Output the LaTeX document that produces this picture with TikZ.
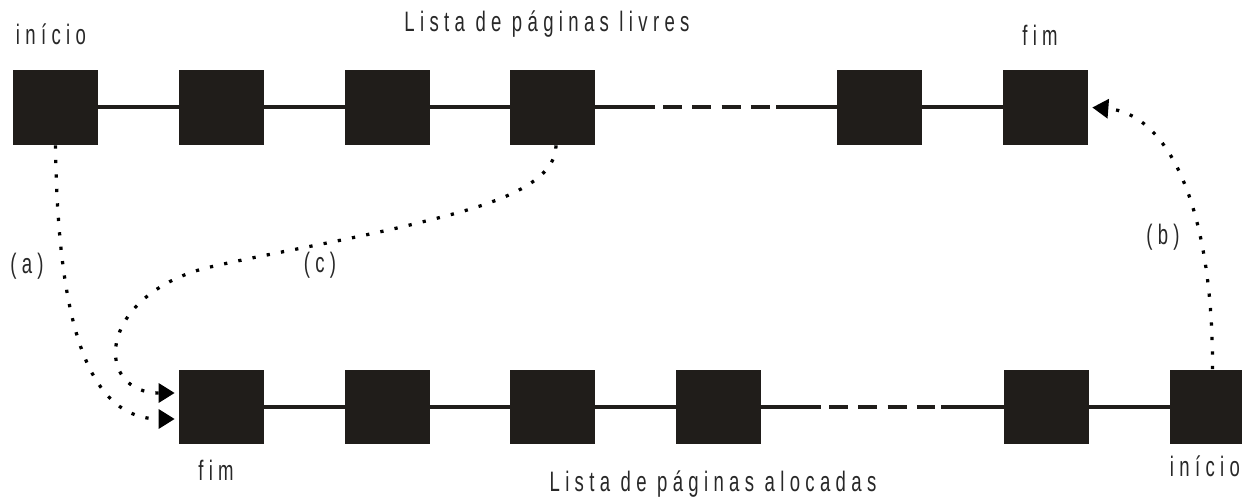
\documentclass[tikz,border=0pt]{standalone}
\usepackage{fontspec}
\setmainfont{Liberation Sans}[FakeStretch=0.66,LetterSpace=19]
\usetikzlibrary{arrows.meta,calc}
\definecolor{boxc}{RGB}{32,29,26}
\definecolor{txtc}{RGB}{40,40,40}
\begin{document}
\begin{tikzpicture}[x=0.02cm,y=-0.02cm,
  page/.style={fill=boxc,minimum width=1.7cm,minimum height=1.5cm,inner sep=0pt,draw=none},
  link/.style={draw=boxc,line width=0.08cm},
  gapdash/.style={draw=boxc,line width=0.08cm,dash pattern=on 0.38cm off 0.206cm},
  ptr/.style={draw=black,line width=0.065cm,dash pattern=on 0.065cm off 0.225cm,-{Triangle[length=0.32cm,width=0.38cm]}},
  lbl/.style={text=txtc,font=\fontsize{16}{19}\selectfont,inner sep=0pt,anchor=base}]
\useasboundingbox (0,0) rectangle (1242,499);
\clip (0,0) rectangle (1242,499);
% top row: free pages
\node[page] (t1) at (55.5,107.5) {};
\node[page] (t2) at (221.5,107.5) {};
\node[page] (t3) at (387.5,107.5) {};
\node[page] (t4) at (552.5,107.5) {};
\node[page] (t5) at (879.5,107.5) {};
\node[page] (t6) at (1045.5,107.5) {};
\coordinate (ta) at (655,107.5);
\coordinate (tb) at (663,107.5);
\coordinate (tc) at (770,107.5);
\coordinate (td) at (776,107.5);
\draw[link] (t1) -- (t2);
\draw[link] (t2) -- (t3);
\draw[link] (t3) -- (t4);
\draw[link] (t4.east) -- (ta);
\draw[gapdash] (tb) -- (tc);
\draw[link] (td) -- (t5.west);
\draw[link] (t5) -- (t6);
% bottom row: allocated pages
\node[page] (b1) at (221.5,407) {};
\node[page] (b2) at (387.5,407) {};
\node[page] (b3) at (552.5,407) {};
\node[page] (b4) at (718.5,407) {};
\node[page] (b5) at (1046.5,407) {};
\node[page] (b6) at (1212.5,407) {};
\coordinate (ba) at (821,407);
\coordinate (bb) at (829,407);
\coordinate (bc) at (935,407);
\coordinate (bd) at (941,407);
\draw[link] (b1) -- (b2);
\draw[link] (b2) -- (b3);
\draw[link] (b3) -- (b4);
\draw[link] (b4.east) -- (ba);
\draw[gapdash] (bb) -- (bc);
\draw[link] (bd) -- (b5.west);
\draw[link] (b5) -- (b6);
% labels
\node[lbl] (l1) at (51,45) {início};
\node[lbl] (l2) at (547,32) {Lista de páginas livres};
\node[lbl] (l3) at (1040,46) {fim};
\node[lbl] (l4) at (27,274) {(a)};
\node[lbl] (l5) at (320,273) {(c)};
\node[lbl] (l6) at (1163,245) {(b)};
\node[lbl] (l7) at (216,481) {fim};
\node[lbl] (l8) at (713,492) {Lista de páginas alocadas};
\node[lbl] (l9) at (1205,477) {início};
% pointers
\coordinate (ea) at ($(b1.west)+(-4,12)$);
\coordinate (ec) at ($(b1.west)+(-4,-14)$);
\coordinate (eb) at ($(t6.east)+(4,0)$);
\draw[ptr] (t1.south) .. controls (58,330) and (90,419) .. (ea);
\draw[ptr] ([xshift=0.07cm]t4.south) .. controls (556,190) and (470,210) .. (418,223)
  .. controls (350,240) and (250,257) .. (202,269)
  .. controls (95,300) and (95,393) .. (ec);
\draw[ptr] (b6.north) .. controls (1213,200) and (1165,113) .. (eb);
\end{tikzpicture}
\end{document}
